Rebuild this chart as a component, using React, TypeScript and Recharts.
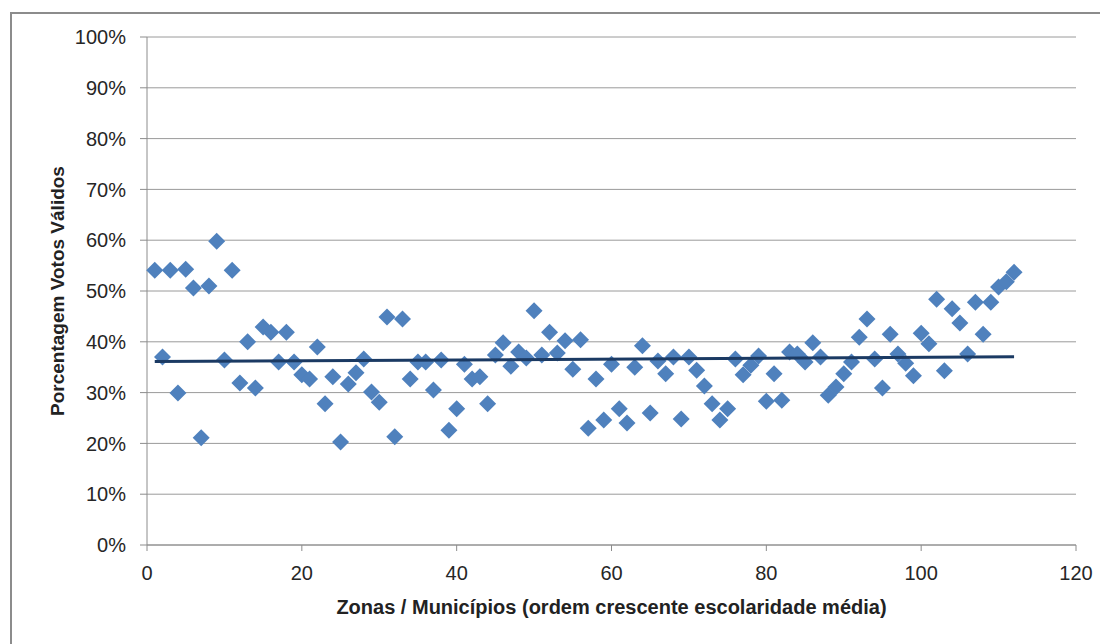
import { ScatterChart, Scatter, XAxis, YAxis, CartesianGrid } from 'recharts'

// percent of valid votes per zone, in order of rising average schooling (x = 1..112)
const votos = [
  54.1, 37.0, 54.1, 29.9, 54.3, 50.6, 21.1, 51.0, 59.8, 36.4,
  54.1, 31.9, 40.0, 30.9, 42.9, 41.9, 36.0, 41.9, 36.0, 33.5,
  32.7, 39.0, 27.8, 33.1, 20.3, 31.7, 33.9, 36.6, 30.1, 28.1,
  44.9, 21.3, 44.5, 32.7, 36.0, 36.0, 30.5, 36.4, 22.6, 26.8,
  35.6, 32.7, 33.1, 27.8, 37.4, 39.8, 35.2, 38.0, 36.8, 46.1,
  37.4, 41.9, 37.8, 40.2, 34.6, 40.4, 23.0, 32.7, 24.6, 35.6,
  26.8, 24.0, 35.0, 39.2, 26.0, 36.2, 33.7, 37.0, 24.8, 37.0,
  34.4, 31.3, 27.8, 24.6, 26.8, 36.6, 33.5, 35.4, 37.2, 28.3,
  33.7, 28.5, 38.0, 37.6, 36.0, 39.8, 37.0, 29.5, 31.1, 33.7,
  36.0, 40.9, 44.5, 36.6, 30.9, 41.5, 37.6, 35.8, 33.3, 41.7,
  39.6, 48.4, 34.3, 46.5, 43.7, 37.6, 47.8, 41.5, 47.8, 50.8,
  51.8, 53.7,
]

const xTicks = [0, 20, 40, 60, 80, 100, 120]
const yTicks = [0, 10, 20, 30, 40, 50, 60, 70, 80, 90, 100]

const points = votos.map((v, i) => ({ x: i + 1, y: v }))

// linear trendline (least squares) like Excel's
const n = points.length
const mx = points.reduce((s, p) => s + p.x, 0) / n
const my = points.reduce((s, p) => s + p.y, 0) / n
const slope =
  points.reduce((s, p) => s + (p.x - mx) * (p.y - my), 0) /
  points.reduce((s, p) => s + (p.x - mx) * (p.x - mx), 0)
const trend = [points[0].x, points[n - 1].x].map(x => ({ x, y: my + slope * (x - mx) }))

const font = '"Liberation Sans", Arial, sans-serif'

const Diamond = (props: any) => {
  const { cx, cy } = props
  const r = 8.5
  return (
    <polygon
      points={`${cx},${cy - r} ${cx + r},${cy} ${cx},${cy + r} ${cx - r},${cy}`}
      fill="#4F81BD"
    />
  )
}

export default function App() {
  return (
    <div style={{ position: 'relative', width: 1100, height: 636, overflow: 'hidden', fontFamily: font }}>
      <div
        style={{
          position: 'absolute', left: 2, top: 4, width: 1200, height: 800,
          border: '2px solid #8c8c8c', boxSizing: 'border-box',
        }}
      />
      <ScatterChart
        width={1100}
        height={636}
        margin={{ top: 29, right: 32, left: 0, bottom: 0 }}
        style={{ position: 'absolute', left: 0, top: 0 }}
      >
        <CartesianGrid vertical={false} stroke="#9a9a9a" strokeWidth={1} />
        <XAxis
          type="number"
          dataKey="x"
          domain={[0, 120]}
          ticks={xTicks}
          height={99}
          stroke="#8c8c8c"
          tickSize={6}
          tickMargin={15}
          tick={{ fill: '#262626', fontSize: 20, fontFamily: font }}
          label={{
            content: ({ viewBox }: any) => (
              <text
                x={viewBox.x + viewBox.width / 2}
                y={viewBox.y + 62}
                textAnchor="middle"
                dominantBaseline="central"
                fontWeight="bold"
                fontSize={20}
                fill="#222"
                fontFamily={font}
              >
                Zonas / Municípios (ordem crescente escolaridade média)
              </text>
            ),
          }}
        />
        <YAxis
          type="number"
          dataKey="y"
          domain={[0, 100]}
          ticks={yTicks}
          width={139}
          stroke="#8c8c8c"
          tickSize={7}
          tickMargin={14}
          tickFormatter={v => `${v}%`}
          tick={{ fill: '#262626', fontSize: 20, fontFamily: font }}
          label={{
            content: ({ viewBox }: any) => {
              const cx = viewBox.x + 49
              const cy = viewBox.y + viewBox.height / 2
              return (
                <text
                  x={cx}
                  y={cy}
                  transform={`rotate(-90 ${cx} ${cy})`}
                  textAnchor="middle"
                  dominantBaseline="central"
                  fontWeight="bold"
                  fontSize={19}
                  fill="#222"
                  fontFamily={font}
                >
                  Porcentagem Votos Válidos
                </text>
              )
            },
          }}
        />
        <Scatter data={points} shape={<Diamond />} isAnimationActive={false} />
        <Scatter
          data={trend}
          line={{ stroke: '#1B3A63', strokeWidth: 3 }}
          shape={() => <g />}
          isAnimationActive={false}
        />
      </ScatterChart>
    </div>
  )
}
